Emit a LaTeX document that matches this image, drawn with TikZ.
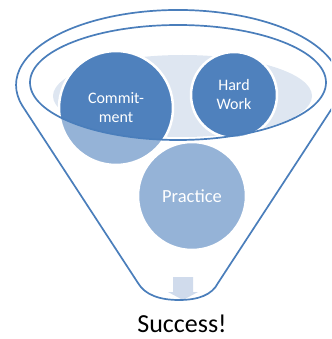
\documentclass[tikz,border=0pt]{standalone}
\usepackage{fontspec}
\setmainfont{Carlito}
\definecolor{dkblue}{HTML}{4F81BD}
\definecolor{lnblue}{HTML}{4A7EBB}
\definecolor{bgell}{HTML}{DEE6F1}
\definecolor{arrowc}{HTML}{D0DBEC}
\tikzset{
  bubble/.style={circle, fill=dkblue, draw=white, line width=2.5pt, text=white, align=center, inner sep=0pt},
  bubtext/.style={font=\fontsize{16}{19}\selectfont},
  funnel/.style={draw=lnblue, line width=1.7pt, line join=round},
}
\begin{document}
\begin{tikzpicture}[x=1pt, y=-1pt]
\useasboundingbox (0,0) rectangle (331,339);
\clip (0,0) rectangle (331,339);
% inner surface of the funnel
\fill[bgell] (182.5,96) ellipse [x radius=129.5pt, y radius=41pt];
% circles
\node[bubble, minimum size=108pt, font=\fontsize{18.5}{22}\selectfont] (practice) at (192,196) {Practice};
\node[bubble, bubtext, minimum size=114pt] (commit) at (116,108) {Commit-\\ment};
\node[bubble, bubtext, minimum size=86pt] (hard) at (234,95) {Hard\\Work};
% funnel geometry
\coordinate (L1) at (22.1,105.4);
\coordinate (R1) at (333.9,105.4);
\coordinate (BL) at (138,283);
\coordinate (BR) at (218,283);
\coordinate (BM) at (179,300);
% translucent funnel body outside the mouth
\fill[white, fill opacity=0.4, even odd rule]
  (L1) -- (BL) .. controls (145,295) and (160,300) .. (BM)
  .. controls (198,300) and (212,295) .. (BR) -- (R1)
  arc[start angle=-15.8, end angle=195.8, x radius=162pt, y radius=75pt] -- cycle
  (178,82.5) ellipse [x radius=148pt, y radius=57.5pt];
% arrow
\fill[arrowc] (173,277) -- (193,277) -- (193,292) -- (198,292) -- (183,300) -- (168,292) -- (173,292) -- cycle;
% outlines
\draw[funnel] (L1) -- (BL) .. controls (145,295) and (160,300) .. (BM)
  .. controls (198,300) and (212,295) .. (BR) -- (R1)
  arc[start angle=-15.8, end angle=195.8, x radius=162pt, y radius=75pt] -- cycle;
\draw[funnel] (178,82.5) ellipse [x radius=148pt, y radius=57.5pt];
% label
\node[anchor=base, font=\fontsize{26}{30}\selectfont, inner sep=0pt] (success) at (182,332) {Success!};
\end{tikzpicture}
\end{document}
